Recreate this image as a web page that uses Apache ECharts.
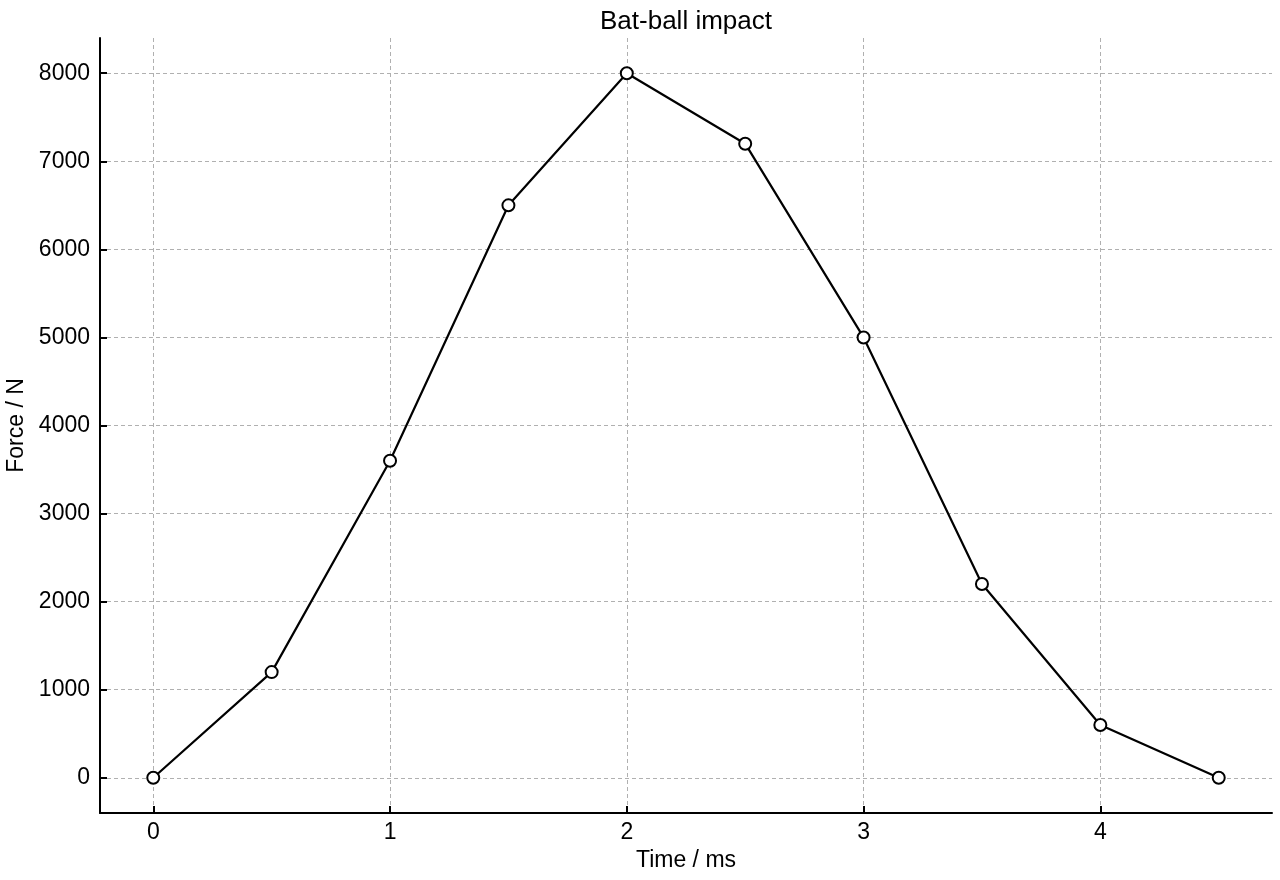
<!DOCTYPE html>
<html>
<head>
<meta charset="utf-8">
<title>Bat-ball impact</title>
<script src="https://cdn.jsdelivr.net/npm/echarts@6/dist/echarts.min.js"></script>
<style>
  html, body { margin: 0; padding: 0; background: #fff; }
  #chart { width: 1280px; height: 880px; }
</style>
</head>
<body>
<div id="chart"></div>
<script>
'use strict'

// time in ms and contact force in N
const timeMs = [0, 0.5, 1, 1.5, 2, 2.5, 3, 3.5, 4, 4.5]
const forceN = [0, 1200, 3600, 6500, 8000, 7200, 5000, 2200, 600, 0]

// tick positions
const xTicks = [0, 1, 2, 3, 4]
const yTicks = [0, 1000, 2000, 3000, 4000, 5000, 6000, 7000, 8000]

const font = 'Liberation Sans, Arial, Helvetica, sans-serif'
const points = timeMs.map((t, i) => [t, forceN[i]])

const chart = echarts.init(document.getElementById('chart'))

const gridLine = {
    show: true,
    lineStyle: { color: '#b0b0b0', width: 1, type: [4, 3] }
}
const spine = {
    show: true,
    onZero: false,
    lineStyle: { color: '#000', width: 2 }
}
const tickLabel = { fontFamily: font, fontSize: 23, color: '#000', formatter: v => String(v) }

chart.setOption({
    animation: false,
    backgroundColor: '#fff',
    title: {
        text: 'Bat-ball impact',
        left: 681,
        textAlign: 'center',
        top: 4,
        textStyle: { fontFamily: font, fontSize: 26, fontWeight: 'normal', color: '#000' }
    },
    grid: { left: 100, right: 8, top: 38, bottom: 67, containLabel: false, outerBoundsMode: 'none' },
    xAxis: {
        type: 'value',
        min: -0.225,
        max: 4.725,
        name: 'Time / ms',
        nameLocation: 'middle',
        nameGap: 36,
        nameTextStyle: { fontFamily: font, fontSize: 23, color: '#000' },
        axisLine: spine,
        axisTick: { show: true, inside: true, length: 7, customValues: xTicks,
            lineStyle: { color: '#000', width: 2 } },
        axisLabel: Object.assign({ customValues: xTicks, margin: 8 }, tickLabel),
        splitLine: gridLine
    },
    yAxis: {
        type: 'value',
        min: -400,
        max: 8400,
        name: 'Force / N',
        nameLocation: 'middle',
        nameGap: 71,
        nameRotate: 90,
        nameTextStyle: { fontFamily: font, fontSize: 23, color: '#000' },
        axisLine: spine,
        axisTick: { show: true, inside: true, length: 7, customValues: yTicks,
            lineStyle: { color: '#000', width: 2 } },
        axisLabel: Object.assign({ customValues: yTicks, margin: 10 }, tickLabel),
        splitLine: gridLine
    },
    series: [{
        type: 'line',
        data: points,
        symbol: 'circle',
        symbolSize: 12,
        showAllSymbol: true,
        lineStyle: { color: '#000', width: 2.2 },
        itemStyle: { color: '#fff', borderColor: '#000', borderWidth: 2 },
        z: 3
    }]
})
</script>
</body>
</html>
